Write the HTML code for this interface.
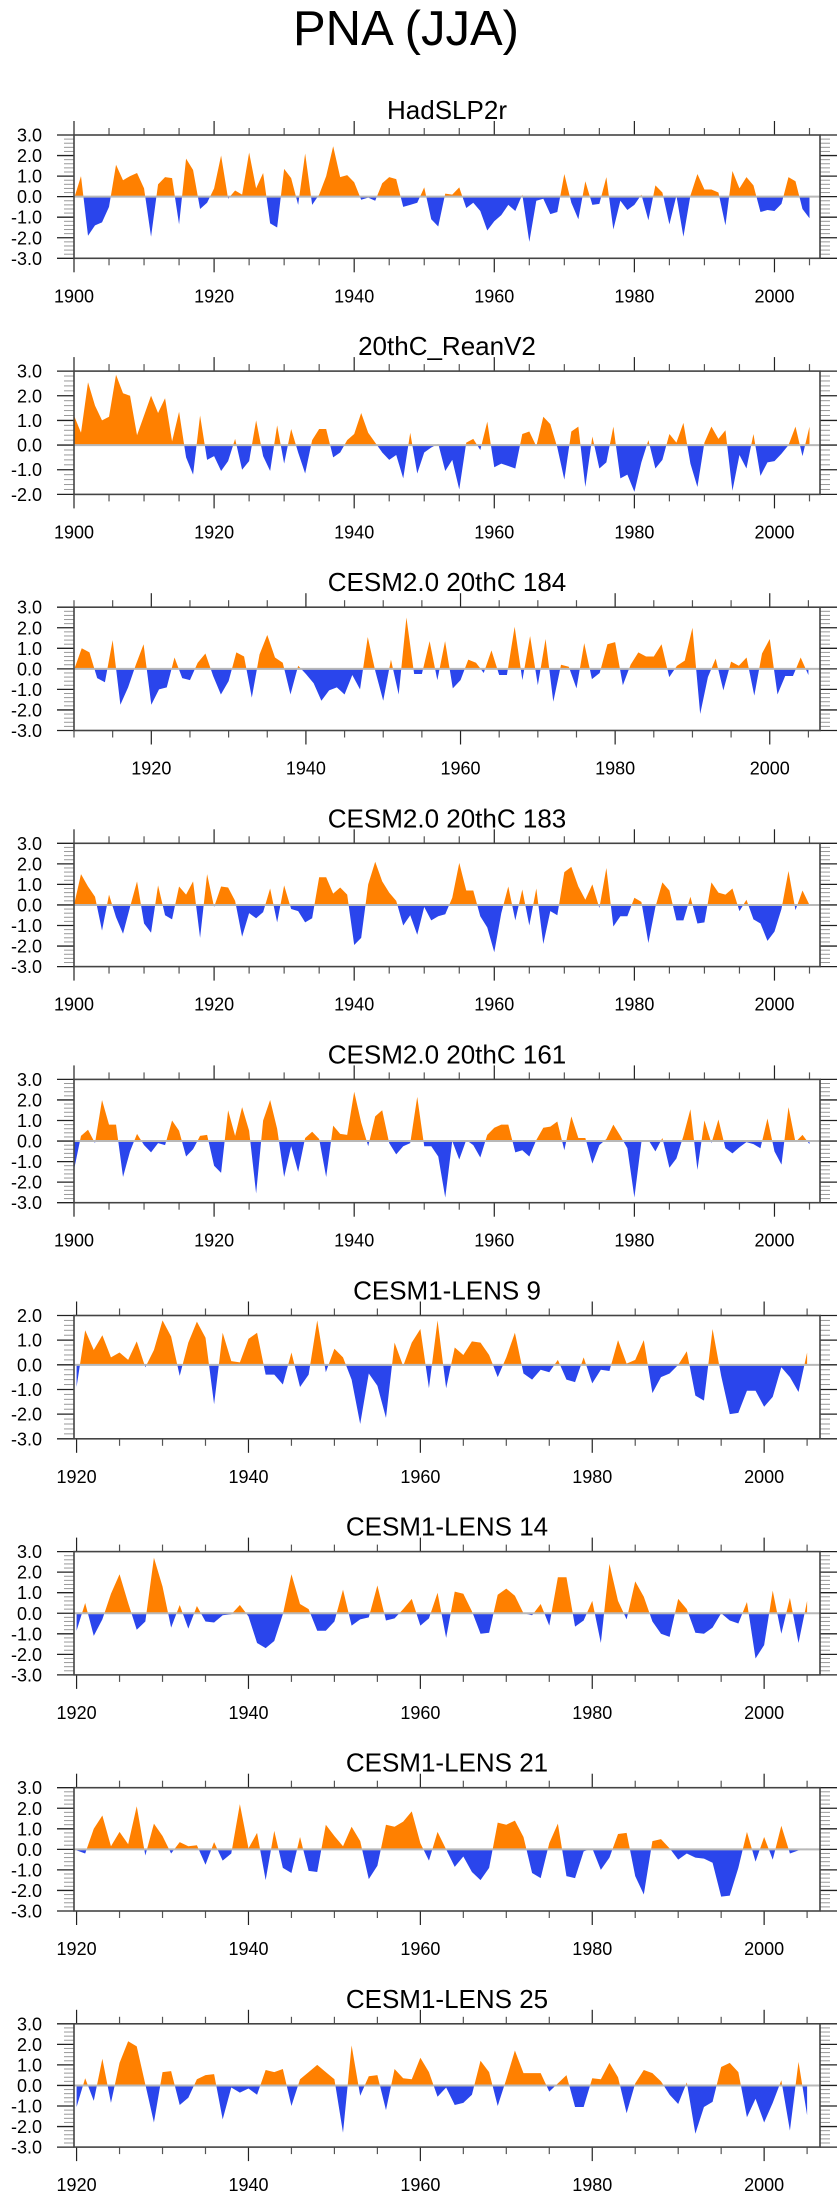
<!DOCTYPE html>
<html><head><meta charset="utf-8">
<style>
html,body{margin:0;padding:0;background:#fff;}
body{width:840px;height:2200px;overflow:hidden;font-family:"Liberation Sans",Arial,sans-serif;}
svg text{font-family:"Liberation Sans",Arial,sans-serif;}
</style></head>
<body>
<svg id="chart" width="840" height="2200" viewBox="0 0 840 2200" xmlns="http://www.w3.org/2000/svg">
<rect x="0" y="0" width="840" height="2200" fill="#fff"/>
<text x="406" y="45" font-size="49" text-anchor="middle" fill="#000">PNA (JJA)</text>
</svg>
<script>
const panelTitles = ["HadSLP2r","20thC_ReanV2","CESM2.0 20thC 184","CESM2.0 20thC 183","CESM2.0 20thC 161","CESM1-LENS 9","CESM1-LENS 14","CESM1-LENS 21","CESM1-LENS 25"];
const startYears = [1900,1900,1910,1900,1900,1920,1920,1920,1920];
const yMaxs = [3,3,3,3,3,2,3,3,3];
const yMins = [-3,-2,-3,-3,-3,-3,-3,-3,-3];
const xTickYears = [1900,1920,1940,1960,1980,2000];

const hadslpValues = [-0.1,1.0,-1.9,-1.4,-1.25,-0.5,1.55,0.8,1.0,1.15,0.4,-1.95,0.6,0.95,0.9,-1.35,1.85,1.3,-0.6,-0.3,0.4,2.0,-0.1,0.3,0.1,2.15,0.4,1.15,-1.3,-1.5,1.35,0.9,-0.4,2.1,-0.4,0.1,1.0,2.45,0.95,1.05,0.7,-0.15,-0.05,-0.2,0.65,0.95,0.85,-0.5,-0.4,-0.3,0.45,-1.1,-1.45,0.15,0.1,0.45,-0.55,-0.3,-0.7,-1.65,-1.2,-0.9,-0.4,-0.7,0.1,-2.2,-0.2,-0.1,-0.85,-0.75,1.1,-0.3,-1.1,0.75,-0.4,-0.35,0.95,-1.6,-0.2,-0.65,-0.4,0.1,-1.15,0.55,0.2,-1.35,0.05,-1.95,0.05,1.1,0.35,0.35,0.2,-1.4,1.25,0.4,0.95,0.55,-0.75,-0.65,-0.7,-0.35,0.95,0.75,-0.6,-1.05];
const reanValues = [1.2,0.5,2.55,1.6,1.0,1.15,2.85,2.1,2.0,0.4,1.2,2.0,1.3,1.9,0.15,1.35,-0.5,-1.2,1.2,-0.6,-0.45,-1.05,-0.65,0.25,-1.0,-0.65,1.0,-0.45,-1.05,0.8,-0.75,0.65,-0.3,-1.15,0.2,0.65,0.65,-0.5,-0.3,0.2,0.45,1.3,0.5,0.1,-0.3,-0.6,-0.4,-1.35,0.5,-1.15,-0.3,-0.1,0.05,-1.05,-0.6,-1.8,0.1,0.25,-0.2,0.95,-0.9,-0.75,-0.85,-0.95,0.45,0.55,-0.05,1.15,0.85,-0.1,-1.4,0.55,0.75,-1.7,0.35,-0.95,-0.7,0.75,-1.35,-1.2,-1.9,-0.7,0.2,-0.95,-0.6,0.45,0.1,0.9,-0.75,-1.7,0.1,0.75,0.25,0.6,-1.85,-0.4,-0.95,0.45,-1.25,-0.7,-0.65,-0.35,0.0,0.75,-0.45,0.75];
const cesm184Values = [-0.05,1.0,0.8,-0.45,-0.65,1.4,-1.75,-0.9,0.2,1.2,-1.75,-1.0,-0.9,0.55,-0.45,-0.55,0.3,0.75,-0.35,-1.25,-0.6,0.8,0.6,-1.4,0.7,1.65,0.55,0.3,-1.25,0.15,-0.25,-0.7,-1.55,-1.05,-0.9,-1.25,-0.3,-1.0,1.55,-0.15,-1.55,0.45,-1.25,2.5,-0.25,-0.25,1.35,-0.55,1.35,-0.95,-0.55,0.45,0.3,-0.2,0.9,-0.3,-0.3,2.05,-0.55,1.6,-0.8,1.45,-1.6,0.2,0.1,-0.95,1.25,-0.5,-0.2,1.2,1.3,-0.8,0.2,0.8,0.6,0.6,1.2,-0.4,0.15,0.4,2.0,-2.2,-0.4,0.5,-1.05,0.35,0.15,0.55,-1.3,0.75,1.45,-1.25,-0.35,-0.35,0.55,-0.3];
const cesm183Values = [0.0,1.5,0.9,0.4,-1.25,0.5,-0.6,-1.4,-0.1,1.15,-0.9,-1.35,0.95,-0.5,-0.7,0.9,0.5,1.15,-1.6,1.5,-0.1,0.9,0.85,0.2,-1.55,-0.4,-0.65,-0.35,0.8,-0.85,0.95,-0.2,-0.3,-0.85,-0.65,1.35,1.35,0.55,0.85,0.5,-1.95,-1.6,1.0,2.1,1.15,0.6,0.2,-1.0,-0.5,-1.45,-0.1,-0.75,-0.55,-0.45,0.35,2.05,0.7,0.7,-0.55,-1.1,-2.3,-0.4,0.9,-0.75,0.75,-1.0,0.8,-1.9,-0.3,-0.5,1.6,1.85,0.9,0.25,1.0,-0.15,1.8,-1.05,-0.55,-0.55,0.35,0.15,-1.85,-0.1,1.1,0.7,-0.75,-0.75,0.4,-0.9,-0.85,1.1,0.6,0.5,0.8,-0.3,0.25,-0.7,-0.9,-1.75,-1.3,-0.2,1.65,-0.25,0.7,0.0];
const cesm161Values = [-1.4,0.25,0.55,-0.1,2.0,0.8,0.8,-1.75,-0.5,0.35,-0.2,-0.55,-0.1,-0.2,1.0,0.5,-0.75,-0.4,0.25,0.3,-1.2,-1.55,1.5,0.25,1.65,0.5,-2.55,1.0,2.0,0.6,-1.75,-0.25,-1.5,0.15,0.45,0.1,-1.75,0.75,0.35,0.3,2.4,0.9,-0.25,1.2,1.5,-0.1,-0.65,-0.25,-0.1,2.15,-0.25,-0.25,-0.75,-2.75,0.0,-0.9,0.05,-0.2,-0.8,0.3,0.65,0.8,0.8,-0.55,-0.45,-0.75,0.05,0.65,0.7,0.95,-0.45,1.2,0.15,0.15,-1.1,-0.2,0.1,0.8,0.25,-0.35,-2.75,-0.05,0.05,-0.5,0.15,-1.3,-0.85,0.25,1.55,-1.4,1.0,-0.1,1.05,-0.35,-0.6,-0.3,-0.05,-0.15,-0.35,1.1,-0.5,-1.15,1.65,-0.05,0.3,-0.15];
const lens9Values = [-0.9,1.4,0.6,1.2,0.3,0.5,0.2,0.95,-0.1,0.6,1.8,1.15,-0.45,0.9,1.75,1.1,-1.6,1.3,0.15,0.1,1.05,1.3,-0.4,-0.4,-0.8,0.5,-0.9,-0.4,1.8,-0.3,0.65,0.3,-0.6,-2.4,-0.35,-0.85,-2.15,0.9,-0.05,0.9,1.45,-0.95,1.8,-0.95,0.7,0.4,0.95,0.9,0.4,-0.5,0.3,1.3,-0.35,-0.6,-0.2,-0.3,0.2,-0.6,-0.7,0.3,-0.75,-0.2,-0.25,1.0,0.05,0.2,1.0,-1.15,-0.5,-0.35,0.0,0.55,-1.25,-1.45,1.45,-0.45,-2.0,-1.95,-1.05,-1.05,-1.7,-1.3,-0.1,-0.5,-1.1,0.5];
const lens14Values = [-0.85,0.5,-1.1,-0.3,0.95,1.9,0.5,-0.8,-0.4,2.7,1.3,-0.7,0.4,-0.75,0.35,-0.4,-0.45,-0.1,-0.05,0.4,-0.15,-1.45,-1.7,-1.35,-0.05,1.9,0.45,0.2,-0.85,-0.85,-0.4,1.15,-0.6,-0.3,-0.2,1.35,-0.35,-0.25,0.2,0.7,-0.6,-0.25,1.0,-1.2,1.05,0.95,0.1,-1.0,-0.95,0.9,1.2,0.85,0.0,-0.1,0.45,-0.6,1.75,1.75,-0.65,-0.35,0.6,-1.45,2.4,0.6,-0.3,1.55,0.8,-0.4,-1.0,-1.15,0.7,0.2,-0.95,-1.0,-0.7,0.0,-0.35,-0.5,0.55,-2.2,-1.55,1.1,-1.0,0.75,-1.45,0.6];
const lens21Values = [-0.05,-0.2,1.0,1.65,0.15,0.85,0.25,2.1,-0.3,1.25,0.65,-0.2,0.35,0.15,0.2,-0.75,0.35,-0.55,-0.2,2.2,0.05,0.8,-1.5,0.9,-0.9,-1.15,0.6,-1.05,-1.1,1.2,0.65,0.15,1.1,0.4,-1.45,-0.8,1.2,1.1,1.35,1.85,0.3,-0.55,0.85,0.0,-0.85,-0.35,-1.1,-1.5,-0.9,1.3,1.2,1.4,0.6,-1.15,-1.4,0.3,1.25,-1.3,-1.4,-0.1,0.05,-1.0,-0.4,0.75,0.8,-1.3,-2.2,0.4,0.5,0.05,-0.5,-0.2,-0.4,-0.45,-0.65,-2.3,-2.25,-0.9,0.85,-0.6,0.6,-0.5,1.15,-0.2,-0.05,0.05];
const lens25Values = [-1.05,0.35,-0.75,1.3,-0.85,1.1,2.15,1.9,0.05,-1.8,0.65,0.7,-0.95,-0.6,0.3,0.5,0.55,-1.65,-0.1,-0.35,-0.15,-0.45,0.75,0.65,0.8,-1.0,0.3,0.65,1.0,0.65,0.3,-2.3,1.95,-0.5,0.45,0.5,-1.2,0.8,0.35,0.3,1.35,0.65,-0.55,-0.1,-0.95,-0.85,-0.45,1.2,0.65,-1.0,0.3,1.7,0.6,0.6,0.6,-0.3,0.1,0.5,-1.05,-1.05,0.35,0.3,1.1,0.4,-1.35,0.1,0.75,0.6,0.2,-0.45,-0.9,0.15,-2.35,-1.05,-0.8,0.9,1.1,0.65,-1.55,-0.65,-1.8,-0.85,0.25,-2.2,1.15,-1.45];

const panelSeries = [hadslpValues,reanValues,cesm184Values,cesm183Values,cesm161Values,lens9Values,lens14Values,lens21Values,lens25Values];

const NS = "http://www.w3.org/2000/svg";
const svg = document.getElementById("chart");
const BOX_L = 74, BOX_R = 820, BOX_H = 123.3, TOP0 = 135, STEP = 236.1, XMAX = 2006.5;
const ORANGE = "#ff8000", BLUE = "#2a45ec";

function mk(tag, attrs, parent) {
  const e = document.createElementNS(NS, tag);
  for (const k in attrs) e.setAttribute(k, attrs[k]);
  (parent || svg).appendChild(e);
  return e;
}
function slug(s){return s.toLowerCase().replace(/[^a-z0-9]+/g,'-').replace(/^-|-$/g,'');}

panelSeries.forEach((vals, p) => {
  const top = TOP0 + p * STEP, bot = top + BOX_H;
  const x0 = startYears[p] - (startYears[p] >= 1920 ? 0.3 : 0);
  const xs = yr => BOX_L + (yr - x0) / (XMAX - x0) * (BOX_R - BOX_L);
  const ys = v => top + (yMaxs[p] - v) / (yMaxs[p] - yMins[p]) * BOX_H;
  const g = mk("g", {});
  
  

  const t = mk("text", {x: (BOX_L + BOX_R) / 2, y: top - 16, "font-size": 26, "text-anchor": "middle", fill: "#000"}, g);
  t.textContent = panelTitles[p];
  
  

  const z = ys(0);
  const cid = "c" + p;
  const defs = mk("defs", {}, g);
  const cpA = mk("clipPath", {id: cid + "a"}, defs);
  mk("rect", {x: BOX_L, y: top, width: BOX_R - BOX_L, height: z - top}, cpA);
  const cpB = mk("clipPath", {id: cid + "b"}, defs);
  mk("rect", {x: BOX_L, y: z, width: BOX_R - BOX_L, height: bot - z}, cpB);

  let pts = vals.map((v, i) => xs(startYears[p] + i).toFixed(2) + "," + ys(v).toFixed(2));
  const lastX = xs(startYears[p] + vals.length - 1), firstX = xs(startYears[p]);
  const poly = pts.join(" ") + " " + lastX.toFixed(2) + "," + z + " " + firstX.toFixed(2) + "," + z;
  const pa = mk("polygon", {points: poly, fill: ORANGE, "clip-path": "url(#" + cid + "a)"}, g);
  
  
  const pb = mk("polygon", {points: poly, fill: BLUE, "clip-path": "url(#" + cid + "b)"}, g);
  
  

  const zl = mk("line", {x1: BOX_L, x2: BOX_R, y1: z, y2: z, stroke: "#b8b8b8", "stroke-width": 2}, g);
  
  

  // y ticks
  for (let k = Math.round(yMins[p] * 5); k <= Math.round(yMaxs[p] * 5); k++) {
    const v = k / 5, y = ys(v), major = (k % 5 === 0);
    const len = major ? 17 : 10, col = major ? "#222" : "#999";
    mk("line", {x1: BOX_L - len, x2: BOX_L, y1: y, y2: y, stroke: col, "stroke-width": major ? 1.3 : 1}, g);
    mk("line", {x1: BOX_R, x2: BOX_R + len, y1: y, y2: y, stroke: col, "stroke-width": major ? 1.3 : 1}, g);
    if (major) {
      const lab = mk("text", {x: 42, y: y + 6.5, "font-size": 18, "text-anchor": "end", fill: "#000"}, g);
      lab.textContent = v.toFixed(1);
      
      
    }
  }
  // x ticks
  for (let yr = 1900; yr <= 2005; yr += 5) {
    if (yr < x0 - 0.01) continue;
    const x = xs(yr), major = (yr % 20 === 0), len = major ? 14 : 7;
    mk("line", {x1: x, x2: x, y1: top - len, y2: top, stroke: major ? "#222" : "#555", "stroke-width": 1.2}, g);
    mk("line", {x1: x, x2: x, y1: bot, y2: bot + len, stroke: major ? "#222" : "#555", "stroke-width": 1.2}, g);
  }
  xTickYears.forEach(yr => {
    if (yr < x0 - 0.01) return;
    const lab = mk("text", {x: xs(yr), y: bot + 44, "font-size": 18, "text-anchor": "middle", fill: "#000"}, g);
    lab.textContent = String(yr);
    
    
  });

  const box = mk("rect", {x: BOX_L, y: top, width: BOX_R - BOX_L, height: BOX_H, fill: "none", stroke: "#444", "stroke-width": 1.6}, g);
  
  
});
</script>
</body></html>
